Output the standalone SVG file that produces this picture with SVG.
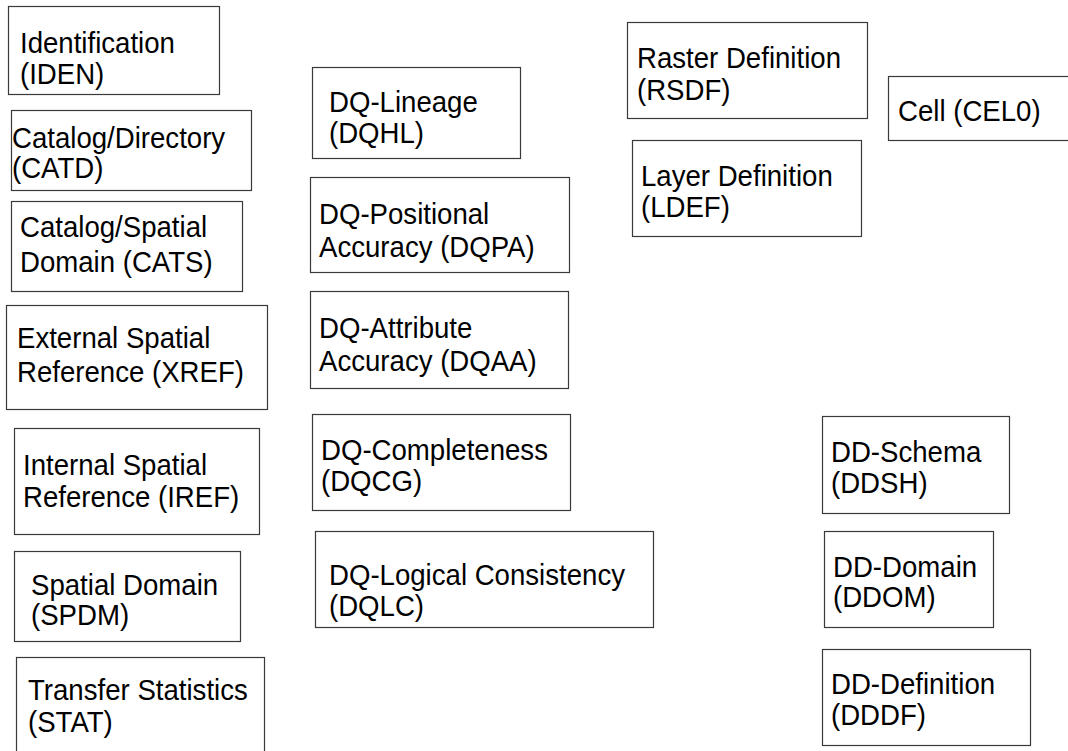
<svg xmlns="http://www.w3.org/2000/svg" width="1068" height="751" viewBox="0 0 1068 751">
<style>
rect{fill:#fff;stroke:#3a3a3a;stroke-width:1.2}
text{font-family:"Liberation Sans",Arial,sans-serif;font-size:27.6px;fill:#000}
</style>
<rect x="0" y="0" width="1068" height="751" style="stroke:none"/>
<g id="connectors"></g>
<g id="IDEN"><rect x="8.5" y="6.5" width="211" height="88"/><text transform="translate(20 53) scale(1 1.08)">Identification</text><text transform="translate(20 84) scale(1 1.08)">(IDEN)</text></g>
<g id="CATD"><rect x="11.5" y="110.5" width="240" height="80"/><text transform="translate(12 148) scale(1 1.08)">Catalog/Directory</text><text transform="translate(12 178) scale(1 1.08)">(CATD)</text></g>
<g id="CATS"><rect x="11.5" y="201.5" width="231" height="90"/><text transform="translate(20 237) scale(1 1.08)">Catalog/Spatial</text><text transform="translate(20 272) scale(1 1.08)">Domain (CATS)</text></g>
<g id="XREF"><rect x="6.5" y="305.5" width="261" height="104"/><text transform="translate(17 348) scale(1 1.08)">External Spatial</text><text transform="translate(17 382) scale(1 1.08)">Reference (XREF)</text></g>
<g id="IREF"><rect x="14.5" y="428.5" width="245" height="106"/><text transform="translate(23 475) scale(1 1.08)">Internal Spatial</text><text transform="translate(23 507) scale(1 1.08)">Reference (IREF)</text></g>
<g id="SPDM"><rect x="14.5" y="551.5" width="226" height="90"/><text transform="translate(31 595) scale(1 1.08)">Spatial Domain</text><text transform="translate(31 625) scale(1 1.08)">(SPDM)</text></g>
<g id="STAT"><rect x="16.5" y="657.5" width="248" height="100"/><text transform="translate(28 700) scale(1 1.08)">Transfer Statistics</text><text transform="translate(28 732) scale(1 1.08)">(STAT)</text></g>
<g id="DQHL"><rect x="312.5" y="67.5" width="208" height="91"/><text transform="translate(329 112) scale(1 1.08)">DQ-Lineage</text><text transform="translate(329 143) scale(1 1.08)">(DQHL)</text></g>
<g id="DQPA"><rect x="310.5" y="177.5" width="259" height="95"/><text transform="translate(319 224) scale(1 1.08)">DQ-Positional</text><text transform="translate(319 257) scale(1 1.08)">Accuracy (DQPA)</text></g>
<g id="DQAA"><rect x="310.5" y="291.5" width="258" height="97"/><text transform="translate(319 338) scale(1 1.08)">DQ-Attribute</text><text transform="translate(319 371) scale(1 1.08)">Accuracy (DQAA)</text></g>
<g id="DQCG"><rect x="312.5" y="414.5" width="258" height="96"/><text transform="translate(321 460) scale(1 1.08)">DQ-Completeness</text><text transform="translate(321 491) scale(1 1.08)">(DQCG)</text></g>
<g id="DQLC"><rect x="315.5" y="531.5" width="338" height="96"/><text transform="translate(329 585) scale(1 1.08)">DQ-Logical Consistency</text><text transform="translate(329 616) scale(1 1.08)">(DQLC)</text></g>
<g id="RSDF"><rect x="627.5" y="22.5" width="240" height="96"/><text transform="translate(637 68) scale(1 1.08)">Raster Definition</text><text transform="translate(637 100) scale(1 1.08)">(RSDF)</text></g>
<g id="CEL0"><rect x="888.5" y="76.5" width="190" height="64"/><text transform="translate(898 121) scale(1 1.08)">Cell (CEL0)</text></g>
<g id="LDEF"><rect x="632.5" y="140.5" width="229" height="96"/><text transform="translate(641 186) scale(1 1.08)">Layer Definition</text><text transform="translate(641 217) scale(1 1.08)">(LDEF)</text></g>
<g id="DDSH"><rect x="822.5" y="416.5" width="187" height="97"/><text transform="translate(831 462) scale(1 1.08)">DD-Schema</text><text transform="translate(831 493) scale(1 1.08)">(DDSH)</text></g>
<g id="DDOM"><rect x="824.5" y="531.5" width="169" height="96"/><text transform="translate(833 577) scale(1 1.08)">DD-Domain</text><text transform="translate(833 607) scale(1 1.08)">(DDOM)</text></g>
<g id="DDDF"><rect x="822.5" y="649.5" width="208" height="96"/><text transform="translate(831 694) scale(1 1.08)">DD-Definition</text><text transform="translate(831 725) scale(1 1.08)">(DDDF)</text></g>
</svg>
